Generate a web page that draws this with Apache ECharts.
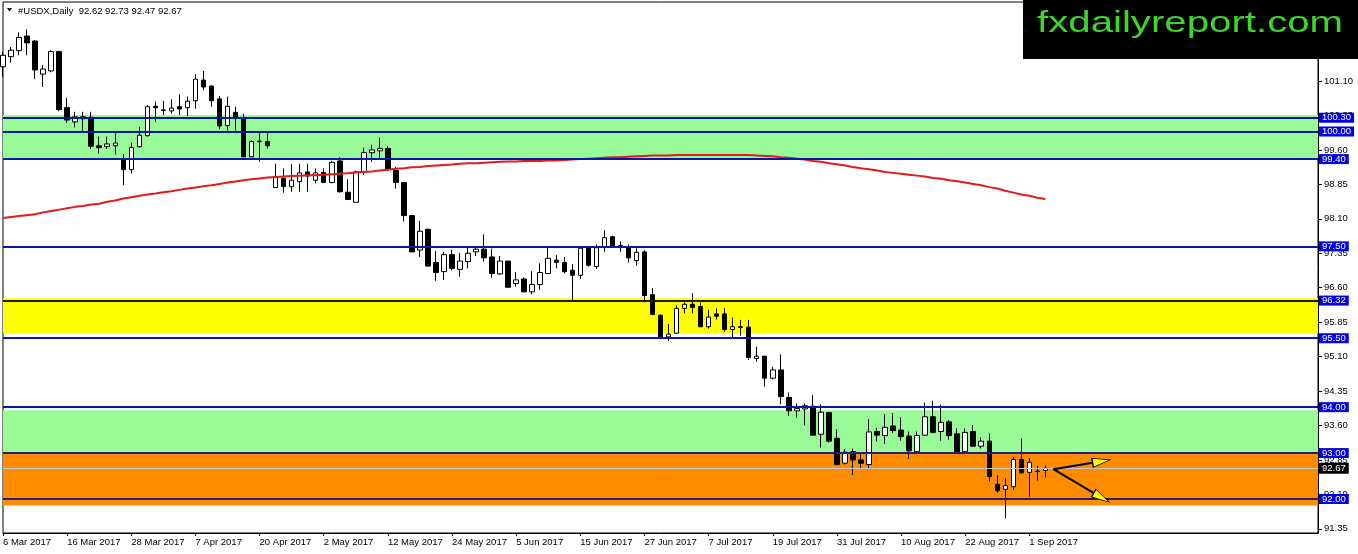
<!DOCTYPE html>
<html lang="en">
<head>
    <meta charset="UTF-8">
    <title>#USDX,Daily</title>
</head>
<style type="text/css">
    *{
        margin: 0;
        padding: 0;
    }
    body{
        background: #fff;
    }
    #chart{
        width: 1358px;
        height: 554px;
    }
</style>
<body>
<div id="chart"></div>
</body>
<script src="https://cdn.jsdelivr.net/npm/echarts@6/dist/echarts.min.js"></script>
<script>
    // trading days on the chart (no bar for 14 Apr, Good Friday)
    var marDays = [6,7,8,9,10,13,14,15,16,17,20,21,22,23,24,27,28,29,30,31];
    var aprDays = [3,4,5,6,7,10,11,12,13,17,18,19,20,21,24,25,26,27,28];
    var mayDays = [1,2,3,4,5,8,9,10,11,12,15,16,17,18,19,22,23,24,25,26,29,30,31];
    var junDays = [1,2,5,6,7,8,9,12,13,14,15,16,19,20,21,22,23,26,27,28,29,30];
    var julDays = [3,4,5,6,7,10,11,12,13,14,17,18,19,20,21,24,25,26,27,28,31];
    var augDays = [1,2,3,4,7,8,9,10,11,14,15,16,17,18,21,22,23,24,25,28,29,30,31];
    var sepDays = [1,4,5];
    var monthNames = ['Mar','Apr','May','Jun','Jul','Aug','Sep'];

    var opens = [
        101.41,101.63,101.76,102.08,101.97,101.25,101.32,101.74,100.52,100.21,
        100.32,100.31,99.69,99.67,99.69,99.40,99.17,99.67,99.91,100.55,
        100.47,100.45,100.54,100.52,100.67,101.12,100.99,100.71,100.13,100.42,
        100.28,99.45,99.78,99.78,98.78,98.98,98.80,98.91,99.12,98.94,
        99.11,98.89,99.36,98.68,98.46,99.12,99.54,99.58,99.63,99.15,
        98.89,98.17,97.42,97.87,97.15,96.95,97.32,97.00,97.17,97.38,
        97.44,97.27,96.90,97.18,96.69,96.79,96.51,96.67,96.91,97.20,
        97.15,96.98,96.87,97.47,97.06,97.49,97.71,97.52,97.47,97.19,
        97.38,96.45,96.00,95.53,95.61,96.15,96.24,96.19,95.75,96.03,
        96.03,95.69,95.75,95.74,95.06,95.11,94.63,94.81,94.21,93.92,
        93.96,94.02,93.41,93.88,93.32,92.78,93.03,92.85,92.75,93.47,
        93.38,93.59,93.50,93.37,93.03,93.39,93.79,93.47,93.68,93.42,
        93.03,93.47,93.15,93.26,92.32,92.21,92.27,92.86,92.58,92.61,
        92.62
    ];
    var highs = [
        101.74,101.84,102.16,102.22,101.99,101.45,101.77,101.76,100.73,100.43,
        100.43,100.43,99.89,99.89,99.97,99.51,99.76,100.10,100.58,100.65,
        100.67,100.70,100.81,100.76,101.25,101.32,101.01,100.77,100.76,100.54,
        100.39,99.81,99.97,99.97,99.30,99.20,99.29,99.30,99.30,99.20,
        99.20,99.36,99.44,98.96,99.15,99.65,99.71,99.87,99.68,99.23,
        98.89,98.17,98.06,97.89,97.40,97.38,97.43,97.36,97.51,97.49,
        97.76,97.45,97.29,97.18,96.94,96.82,96.96,97.13,97.47,97.31,
        97.27,97.11,97.51,97.51,97.54,97.85,97.73,97.61,97.54,97.46,
        97.42,96.59,96.02,95.81,96.22,96.28,96.48,96.28,96.12,96.15,
        96.16,95.95,95.90,95.90,95.32,95.11,94.88,95.15,94.32,94.08,
        94.08,94.26,94.06,93.90,93.52,93.09,93.10,93.02,93.74,93.55,
        93.85,93.87,93.78,93.47,93.47,94.10,94.14,94.05,93.72,93.54,
        93.54,93.61,93.34,93.43,92.52,92.45,92.92,93.32,92.89,92.72,
        92.73
    ];
    var lows = [
        101.19,101.50,101.66,101.66,101.14,100.97,101.29,100.44,100.19,100.09,
        100.01,99.62,99.52,99.62,99.50,98.83,99.09,99.65,99.89,100.21,
        100.36,100.39,100.36,100.34,100.50,100.90,100.54,100.05,100.02,100.02,
        99.44,99.44,99.34,99.63,98.78,98.67,98.69,98.69,98.69,98.87,
        98.89,98.87,98.67,98.52,98.46,99.05,99.34,99.39,99.15,98.76,
        98.04,97.38,97.27,97.06,96.75,96.77,96.98,96.84,97.02,97.29,
        97.17,96.82,96.88,96.61,96.62,96.50,96.46,96.55,96.91,97.02,
        96.91,96.30,96.79,97.06,97.01,97.38,97.49,97.38,97.15,97.08,
        96.28,96.00,95.51,95.44,95.59,96.04,96.04,95.75,95.71,95.91,
        95.64,95.50,95.56,95.03,94.99,94.45,94.60,94.06,93.81,93.77,
        93.60,93.39,93.12,93.23,92.73,92.75,92.52,92.65,92.65,93.25,
        93.20,93.44,93.27,92.87,93.02,93.38,93.43,93.27,93.29,93.01,
        93.01,93.14,93.10,92.38,92.14,91.58,92.20,92.55,92.05,92.40,
        92.47
    ];
    var closes = [
        101.66,101.77,102.05,101.93,101.34,101.36,101.74,100.48,100.25,100.32,
        100.28,99.68,99.65,99.73,99.75,99.17,99.65,99.92,100.54,100.52,
        100.46,100.51,100.49,100.66,101.14,100.97,100.67,100.12,100.55,100.31,
        99.45,99.78,99.79,99.69,99.02,98.80,98.94,99.10,99.03,99.10,
        98.89,99.33,98.69,98.52,99.12,99.54,99.60,99.63,99.17,98.89,
        98.17,97.38,97.83,97.07,96.93,97.32,97.02,97.18,97.35,97.44,
        97.25,96.91,97.18,96.61,96.77,96.51,96.67,96.93,97.24,97.15,
        96.95,96.87,97.46,97.09,97.47,97.69,97.51,97.49,97.25,97.37,
        96.43,96.02,95.53,95.59,96.15,96.24,96.17,95.75,95.96,95.98,
        95.69,95.75,95.74,95.08,95.11,94.63,94.81,94.23,93.92,93.97,
        94.03,93.39,93.89,93.26,92.75,93.02,92.85,92.78,93.46,93.39,
        93.56,93.49,93.36,93.05,93.38,93.79,93.45,93.67,93.38,93.03,
        93.45,93.15,93.26,92.49,92.18,92.29,92.86,92.57,92.80,92.60,
        92.67
    ];
    // red moving average
    var maValues = [
        98.12,98.14,98.16,98.18,98.20,98.24,98.27,98.30,98.33,98.36,
        98.38,98.41,98.43,98.47,98.50,98.54,98.57,98.60,98.63,98.65,
        98.68,98.70,98.73,98.76,98.78,98.81,98.83,98.86,98.89,98.91,
        98.94,98.96,98.98,99.00,99.01,99.02,99.03,99.04,99.05,99.05,
        99.06,99.07,99.08,99.09,99.11,99.12,99.13,99.15,99.17,99.19,
        99.20,99.22,99.23,99.25,99.26,99.27,99.28,99.30,99.31,99.31,
        99.32,99.33,99.34,99.35,99.35,99.36,99.36,99.36,99.37,99.37,
        99.38,99.39,99.40,99.41,99.42,99.43,99.44,99.44,99.45,99.46,
        99.47,99.48,99.48,99.48,99.49,99.49,99.49,99.49,99.49,99.49,
        99.49,99.49,99.49,99.49,99.48,99.47,99.46,99.44,99.43,99.41,
        99.39,99.36,99.34,99.31,99.29,99.26,99.23,99.20,99.18,99.15,
        99.12,99.10,99.08,99.06,99.04,99.02,98.99,98.97,98.94,98.92,
        98.89,98.86,98.83,98.79,98.76,98.71,98.67,98.63,98.60,98.56,
        98.53
    ];

    // horizontal levels drawn on the chart
    var levelValues = [100.30, 100.00, 99.40, 97.50, 96.32, 95.50, 94.00, 93.00, 92.00];
    // shaded zones [low, high]
    var zoneRanges = [[99.40, 100.36], [95.61, 96.37], [93.00, 93.93], [91.86, 93.00]];
    // right axis tick labels
    var yTicks = [91.35, 92.10, 92.85, 93.60, 94.35, 95.10, 95.85, 96.60, 97.35, 98.10, 98.85, 99.60, 100.35, 101.10, 101.85, 102.60];
    // two arrows: [bar index, price] start -> head
    var arrowUp = [[131, 92.65], [137, 92.82]];
    var arrowDown = [[131, 92.65], [137, 92.03]];

    var dates = [];
    [marDays, aprDays, mayDays, junDays, julDays, augDays, sepDays].forEach(function (days, m) {
        days.forEach(function (d) {
            dates.push(d + ' ' + monthNames[m] + ' 2017');
        });
    });
    var barCount = dates.length;
    // empty space on the right side (chart shift)
    for (var k = 0; k < 34; k++) {
        dates.push('_' + k);
    }

    var candles = opens.map(function (o, i) {
        return [o, closes[i], lows[i], highs[i]];
    });
    var last = barCount - 1;
    var lastPrice = closes[last];

    var font = 'Liberation Sans';
    var zoneColors = ['#98fb98', '#ffff00', '#98fb98', '#ff8c00'];
    function levelColor(v) {
        if (v === 96.32) return '#1a1a1a';
        if (v === 93.00 || v === 92.00) return '#2e1a7a';
        return '#0a18a8';
    }
    function showTick(idx) {
        return idx % 8 === 0 && idx < barCount;
    }

    var levelLines = levelValues.map(function (v) {
        return {
            yAxis: v,
            lineStyle: { color: levelColor(v), width: 2, type: 'solid' },
            label: {
                show: true, position: 'end', distance: 1,
                formatter: v.toFixed(2),
                color: '#fff', backgroundColor: '#0000e6',
                fontFamily: font, fontSize: 9.5, lineHeight: 10,
                padding: [0, 3, 0, 3]
            }
        };
    });
    // current price line
    levelLines.push({
        yAxis: lastPrice,
        lineStyle: { color: '#c8c8c8', width: 1, type: 'solid' },
        label: {
            show: true, position: 'end', distance: 1,
            formatter: lastPrice.toFixed(2),
            color: '#fff', backgroundColor: '#000',
            fontFamily: font, fontSize: 9.5, lineHeight: 10,
            padding: [1, 3, 0, 3]
        }
    });
    [arrowUp, arrowDown].forEach(function (a) {
        levelLines.push([
            { coord: a[0], lineStyle: { color: '#000', width: 2, type: 'solid' }, label: { show: false } },
            { coord: a[1] }
        ]);
    });

    var myChart = echarts.init(document.getElementById('chart'));
    var option = {
        animation: false,
        backgroundColor: '#fff',
        grid: {
            left: 2.5, right: 40, top: 2, bottom: 21,
            show: true, borderColor: '#000', borderWidth: 1, backgroundColor: '#fff'
        },
        xAxis: {
            type: 'category',
            data: dates,
            boundaryGap: false,
            axisLine: { lineStyle: { color: '#000', width: 1 } },
            axisTick: { show: true, length: 3, interval: showTick, lineStyle: { color: '#000' } },
            axisLabel: {
                interval: showTick, align: 'left', margin: 4,
                color: '#000', fontFamily: font, fontSize: 9.5
            },
            splitLine: { show: false }
        },
        yAxis: {
            type: 'value',
            position: 'right',
            min: 91.26,
            max: 102.82,
            axisLine: { show: true, lineStyle: { color: '#000', width: 1 } },
            axisTick: { show: true, length: 4, customValues: yTicks, lineStyle: { color: '#000' } },
            axisLabel: {
                customValues: yTicks,
                formatter: function (v) { return v.toFixed(2); },
                margin: 6, color: '#000', fontFamily: font, fontSize: 9.5
            },
            splitLine: { show: false }
        },
        series: [
            {
                name: 'zones',
                type: 'line',
                data: [],
                z: 1,
                silent: true,
                markArea: {
                    silent: true,
                    data: zoneRanges.map(function (r, i) {
                        return [{ yAxis: r[0], itemStyle: { color: zoneColors[i], opacity: 1 } }, { yAxis: r[1] }];
                    })
                }
            },
            {
                name: '#USDX',
                type: 'candlestick',
                data: candles,
                barWidth: 5,
                z: 3,
                itemStyle: {
                    color: '#fff', color0: '#000',
                    borderColor: '#000', borderColor0: '#000', borderColorDoji: '#000',
                    borderWidth: 1
                }
            },
            {
                name: 'MA',
                type: 'line',
                data: maValues,
                showSymbol: false,
                z: 4,
                lineStyle: { color: '#e31a1a', width: 2 }
            },
            {
                name: 'levels',
                type: 'line',
                data: [],
                z: 5,
                silent: true,
                markLine: {
                    silent: true,
                    symbol: ['none', 'none'],
                    data: levelLines
                },
                markPoint: {
                    silent: true,
                    label: { show: false },
                    data: [
                        { coord: arrowUp[1], symbol: 'triangle', symbolSize: [9, 18], symbolRotate: -80,
                          itemStyle: { color: '#ffff00', borderColor: '#000', borderWidth: 1 } },
                        { coord: arrowDown[1], symbol: 'triangle', symbolSize: [9, 18], symbolRotate: -120,
                          itemStyle: { color: '#ffff00', borderColor: '#000', borderWidth: 1 } }
                    ]
                }
            }
        ],
        graphic: [
            {
                type: 'polygon', z: 100,
                shape: { points: [[7, 8], [12, 8], [9.5, 11.5]] },
                style: { fill: '#000' }
            },
            {
                type: 'text', z: 100, x: 18, y: 11,
                style: {
                    text: '#USDX,Daily  ' + [opens[last], highs[last], lows[last], closes[last]].map(function (v) { return v.toFixed(2); }).join(' '),
                    fill: '#000', font: '9.5px "Liberation Sans"', textVerticalAlign: 'middle'
                }
            },
            {
                type: 'rect', z: 100,
                shape: { x: 1023, y: 0, width: 335, height: 59 },
                style: { fill: '#000' }
            },
            {
                type: 'text', z: 101, x: 1037, y: 24, scaleX: 1.34,
                style: {
                    text: 'fxdailyreport.com',
                    fill: '#3fd62b', font: '30px "Liberation Sans"',
                    textAlign: 'left', textVerticalAlign: 'middle'
                }
            }
        ]
    };
    myChart.setOption(option);
</script>
</html>
